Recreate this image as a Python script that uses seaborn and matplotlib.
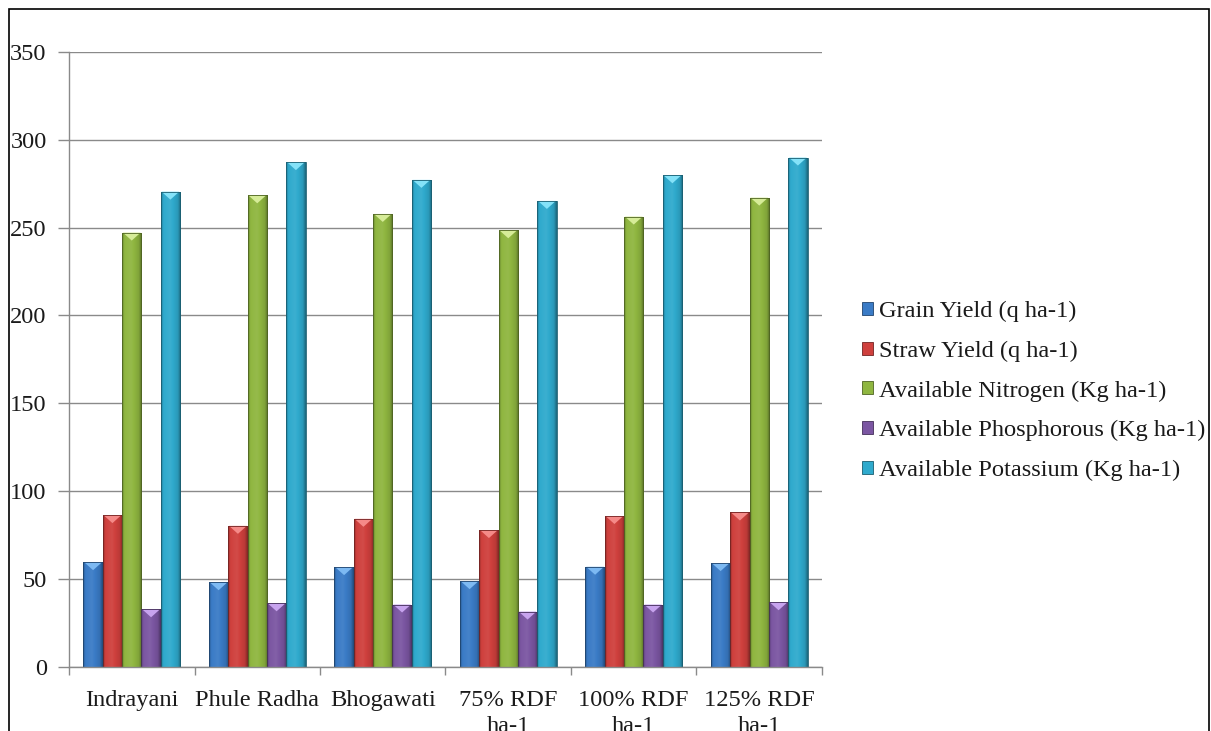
import numpy as np
import pandas as pd
import matplotlib
matplotlib.use("Agg")
import matplotlib.pyplot as plt
from matplotlib.patches import Polygon, Rectangle, Patch
from matplotlib.colors import to_rgb
import seaborn as sns

# ---- data -----------------------------------------------------------------
treatments = ["Indrayani", "Phule Radha", "Bhogawati",
              "75% RDF\nha-1", "100% RDF\nha-1", "125% RDF\nha-1"]
series = ["Grain Yield (q ha-1)", "Straw Yield (q ha-1)",
          "Available Nitrogen (Kg ha-1)", "Available Phosphorous (Kg ha-1)",
          "Available Potassium (Kg ha-1)"]
grain_yield = [59.5, 48.1, 56.7, 48.7, 56.9, 59.0]
straw_yield = [86.3, 80.2, 84.2, 77.8, 85.8, 87.8]
available_n = [247.2, 268.4, 257.8, 248.5, 256.3, 267.1]
available_p = [32.7, 36.1, 35.4, 31.4, 35.4, 36.7]
available_k = [270.5, 287.3, 277.2, 265.2, 279.8, 289.9]
yticks = [0, 50, 100, 150, 200, 250, 300, 350]

colors = ["#3A7BC6", "#CF403D", "#8FB640", "#7B56A2", "#2FAACD"]
top_colors = ["#7DB9F2", "#F58A88", "#D6EC98", "#C7A3EE", "#84E2F8"]

values = [grain_yield, straw_yield, available_n, available_p, available_k]
df = pd.DataFrame({
    "Treatment": np.repeat([treatments], len(series), axis=0).ravel(),
    "Parameter": np.repeat(series, len(treatments)),
    "Value": np.concatenate(values),
})

# ---- figure ---------------------------------------------------------------
sns.set_theme(style="white")
plt.rcParams["font.family"] = ["Liberation Serif", "DejaVu Serif"]
FS = 17.6
grid_c = "#8a8a8a"

fig = plt.figure(figsize=(12.11, 7.31), dpi=100)
ax = fig.add_axes([69 / 1211, 1 - 666.7 / 731, (822 - 69) / 1211, (666.7 - 52) / 731])

sns.barplot(data=df, x="Treatment", y="Value", hue="Parameter",
            order=treatments, hue_order=series, palette=colors,
            width=0.77, saturation=1, legend=False, ax=ax,
            edgecolor="none", linewidth=0)

ax.set_xlim(-0.5, len(treatments) - 0.5)
ax.set_ylim(0, 350)


def shade(c, f):
    r = np.array(to_rgb(c))
    if f < 1:
        return r * f
    return r + (1 - r) * (f - 1)


# bevelled look for every bar drawn by seaborn
px_per_unit = (666.7 - 52) / 350
bars = [p for p in ax.patches if isinstance(p, Rectangle) and p.get_height() > 0]
for p in bars:
    x, w, h = p.get_x(), p.get_width(), p.get_height()
    base = p.get_facecolor()[:3]
    idx = int(np.argmin([np.sum((np.array(to_rgb(c)) - base) ** 2) for c in colors]))
    c = colors[idx]
    t = np.linspace(0, 1, 60)
    prof = np.interp(t, [0, 0.12, 0.45, 0.85, 1.0], [0.72, 1.0, 1.06, 0.9, 0.6])
    img = np.array([[shade(c, f) for f in prof]])
    im = ax.imshow(img, extent=(x, x + w, 0, h), aspect="auto",
                   interpolation="bilinear", zorder=p.get_zorder() + 0.1)
    im.set_clip_path(p)
    d = 8 / px_per_unit
    ax.add_patch(Polygon([(x + w * 0.04, h), (x + w * 0.96, h), (x + w / 2, h - d)],
                         closed=True, fc=top_colors[idx], ec="none",
                         zorder=p.get_zorder() + 0.2))
    ax.add_patch(Rectangle((x, 0), w, h, fill=False, ec=shade(c, 0.55), lw=0.6,
                           zorder=p.get_zorder() + 0.3))

ax.set_xlim(-0.5, len(treatments) - 0.5)
ax.set_ylim(0, 350)

# axes styling
ax.set_xlabel("")
ax.set_ylabel("")
ax.set_yticks(yticks)
ax.set_yticklabels([str(v) for v in yticks], fontsize=FS, color="#1a1a1a")
ax.yaxis.grid(True, color=grid_c, lw=1)
ax.set_axisbelow(True)
for s in ["top", "right"]:
    ax.spines[s].set_visible(False)
for s in ["left", "bottom"]:
    ax.spines[s].set_color(grid_c)
    ax.spines[s].set_linewidth(1)

ax.tick_params(axis="y", which="major", length=8, width=1, color=grid_c,
               direction="out", pad=8, left=True)
ax.set_xticks(range(len(treatments)))
ax.set_xticklabels(treatments, fontsize=FS, color="#1a1a1a", linespacing=1.3)
ax.set_xticks(np.arange(-0.5, len(treatments)), minor=True)
ax.tick_params(axis="x", which="major", length=0, pad=17)
ax.tick_params(axis="x", which="minor", length=6, width=1, color=grid_c,
               direction="out", bottom=True)

# legend
handles = [Patch(fc=c, ec=shade(c, 0.55), lw=0.6) for c in colors]
fig.legend(handles, series, loc="center left",
           bbox_to_anchor=(852 / 1211, 1 - 391 / 731),
           frameon=False, fontsize=FS, handlelength=0.45, handleheight=0.45,
           handletextpad=0.25, labelspacing=0.76, borderaxespad=0,
           labelcolor="#1a1a1a")

# outer frame
fig.add_artist(Rectangle((9 / 1211, -0.2), (1208.5 - 9) / 1211, 1.2 - 9 / 731,
                         transform=fig.transFigure, fill=False, ec="black", lw=1.2))

fig.savefig("out.png", dpi=100)
